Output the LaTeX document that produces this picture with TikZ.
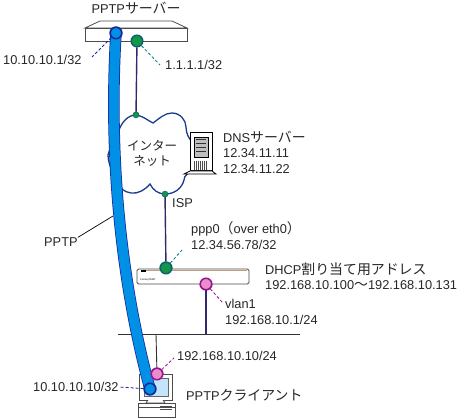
\documentclass[tikz,border=0pt]{standalone}
\usepackage{fontspec}
\setmainfont{Liberation Sans}
\newfontfamily\cjk[Scale=1.085]{Noto Sans CJK JP}
\newfontfamily\cjkcloud{Noto Sans CJK JP}
\newcommand{\jp}[1]{{\cjk #1}}
\definecolor{tunnelblue}{RGB}{0,145,230}
\definecolor{tunneledge}{RGB}{25,40,150}
\definecolor{wire}{RGB}{50,40,110}
\definecolor{cloudedge}{RGB}{25,60,140}
\definecolor{portgreen}{RGB}{20,150,70}
\definecolor{portgreenedge}{RGB}{10,100,110}
\definecolor{portpink}{RGB}{235,140,205}
\definecolor{portpinkedge}{RGB}{150,20,140}
\definecolor{screenblue}{RGB}{195,228,250}
\tikzset{x=1pt,y=-1pt,
 lbl/.style={inner sep=0pt,anchor=west,font=\fontsize{12.8}{15}\selectfont,align=left,text=black!85},
 port/.style={circle,minimum size=11.5pt,inner sep=0pt,line width=1.5pt},
 gport/.style={port,draw=portgreenedge,fill=portgreen},
 pport/.style={port,draw=portpinkedge,fill=portpink},
 bport/.style={port,draw=tunneledge,fill=tunnelblue},
 smalldot/.style={circle,minimum size=6pt,inner sep=0pt,fill=portgreen,draw=portgreenedge,line width=.4pt},
 wireline/.style={draw=wire,line width=1.4pt},
 lead/.style={dash pattern=on 3pt off 2pt,line width=.8pt},
 device/.style={draw=black!70,line width=.8pt,fill=white}}
\begin{document}
\begin{tikzpicture}
\useasboundingbox (0,0) rectangle (468,419);
% server
\draw[device,fill=white] (85,28) -- (100,21) -- (172,21) -- (187,28) -- cycle;
\node[device,minimum width=102pt,minimum height=13pt,inner sep=0pt,anchor=north west] (srv) at (85,28) {};
% wires
\coordinate (cloudtop) at (136,115);
\coordinate (cloudbot) at (165,194);
\node[smalldot] (dtop) at (cloudtop) {};
\node[smalldot] (dbot) at (cloudbot) {};
\node[gport] (srvg) at (137,41) {};
\node[gport] (rtg) at (166,268) {};
\node[pport] (rtp) at (206,284) {};
\coordinate (lanl) at (118,334);
\coordinate (lanr) at (300,334);
\coordinate (lanp) at (206,334);
\coordinate (lanc) at (156,334);
\node[pport] (pcp) at (157,374) {};
\draw[wireline] (srvg) -- (dtop);
\draw[wireline] (dbot) -- (rtg);
\draw[wire,line width=1.1pt] (rtp) -- (lanp);
\draw[black!80,line width=.9pt] (lanl) -- (lanr);
\draw[black!80,line width=.9pt] (lanc) -- (pcp);
% cloud
\draw[cloudedge,line width=1.3pt,fill=white] (136,115)
 .. controls (143,116) and (147,120) .. (153,123)
 .. controls (160,118) and (165,113) .. (172,113)
 .. controls (180,113) and (186,120) .. (186,127)
 .. controls (186,133) and (189,140) .. (193,142)
 -- (193,170)
 .. controls (189,173) and (184,175) .. (184,180)
 .. controls (182,188) and (175,194) .. (165,194)
 .. controls (158,194) and (153,190) .. (150,184)
 .. controls (145,190) and (138,194) .. (131,193)
 .. controls (124,192) and (120,188) .. (120,185)
 .. controls (115,178) and (108,165) .. (108,155)
 .. controls (110,147) and (116,138) .. (119,130)
 .. controls (122,122) and (128,115) .. (136,115) -- cycle;
\node[smalldot] at (dtop) {};
\node[smalldot] at (dbot) {};
\node[lbl,anchor=center,font=\fontsize{12.5}{15.5}\selectfont,align=center] (inet) at (152,153.5) {{\cjkcloud インター}\\{\cjkcloud ネット}};
% router
\draw[black!70,line width=.9pt,fill=white,rounded corners=1.5pt] (137,269) rectangle (249,284);
\draw[orange!50!black!50,line width=.7pt] (141,270.5) -- (247,270.5);
\fill[black] (141,270) rectangle (146,272);
\node[inner sep=0pt,anchor=west,font=\fontsize{2.5}{3}\selectfont] (rtname) at (140,279.5) {CenturyTEMT};
\node[gport] at (rtg) {};
\node[pport] at (rtp) {};
% DNS server
\draw[black,line width=1pt,fill=white] (190,133) rectangle (212,171);
\draw[black,fill=black!25,line width=.6pt] (194,137) rectangle (208,157);
\foreach \yy in {140,144,148,152} \draw[black!80,line width=1pt] (196,\yy) -- (206,\yy);
\foreach \xx in {194,196,198,200,202,204,206} \draw[black!70,line width=.8pt] (\xx,161) -- (\xx,170);
\draw[black,line width=.8pt,fill=white] (190,171) -- (184,174) -- (216,174) -- (212,171) -- cycle;
% PC
\draw[device] (139,374) rectangle (172,400);
\draw[black!60,fill=screenblue,line width=.5pt] (144,378) rectangle (168,396);
\draw[device] (148,400) -- (146,403) -- (165,403) -- (163,400);
\draw[device] (138,403) rectangle (175,417);
\draw[black!70,line width=.7pt] (138,407) -- (175,407);
\draw[black!70,line width=.8pt] (160,406) -- (172,406);
\draw[black!70,line width=.8pt] (160,409) -- (172,409);
% tunnel
\node[bport] (tt) at (116,33) {};
\node[bport] (tb) at (150,389) {};
\draw[tunneledge,line width=11.5pt] (tt.center) .. controls (110,130) and (115,260) .. (tb.center);
\draw[tunnelblue,line width=10pt] (tt.center) .. controls (110,130) and (115,260) .. (tb.center);
\node[bport] at (tt) {};
\node[bport] at (tb) {};
\node[pport] at (pcp) {};
% labels
\node[lbl,anchor=center] (t1) at (136,8) {PPTP\jp{サーバー}};
\node[lbl] (t2) at (3,60) {10.10.10.1/32};
\node[lbl] (t3) at (165,65) {1.1.1.1/32};
\node[lbl] (t4) at (223,137) {DNS\jp{サーバー}};
\node[lbl] (t5) at (223,153) {12.34.11.11};
\node[lbl] (t6) at (223,169) {12.34.11.22};
\node[lbl] (t7) at (172,203) {ISP};
\node[lbl] (t8) at (191,229) {ppp0\jp{（}over eth0\jp{）}};
\node[lbl] (t9) at (191,245) {12.34.56.78/32};
\node[lbl] (t10) at (265,269) {DHCP\jp{割り当て用アドレス}};
\node[lbl] (t11) at (265,285) {192.168.10.100\jp{〜}192.168.10.131};
\node[lbl] (t12) at (225,304) {vlan1};
\node[lbl] (t13) at (225,320) {192.168.10.1/24};
\node[lbl] (t14) at (177,356) {192.168.10.10/24};
\node[lbl] (t15) at (33,387) {10.10.10.10/32};
\node[lbl] (t16) at (186,395) {PPTP\jp{クライアント}};
\node[lbl] (t17) at (44,242) {PPTP};
% leaders
\coordinate (tun) at (113,216);
\draw[black,line width=.7pt] (t17.north east) -- (tun);
\draw[lead,tunneledge] (tt) -- (92,57);
\draw[lead,teal] (srvg) -- (160,65);
\draw[lead,teal] (rtg) -- (182,250);
\draw[lead,portpinkedge] (rtp) -- (222,302);
\draw[lead,portpinkedge] (pcp) -- (174,358);
\draw[lead,tunneledge] (tb) -- (t15.east);
\end{tikzpicture}
\end{document}
